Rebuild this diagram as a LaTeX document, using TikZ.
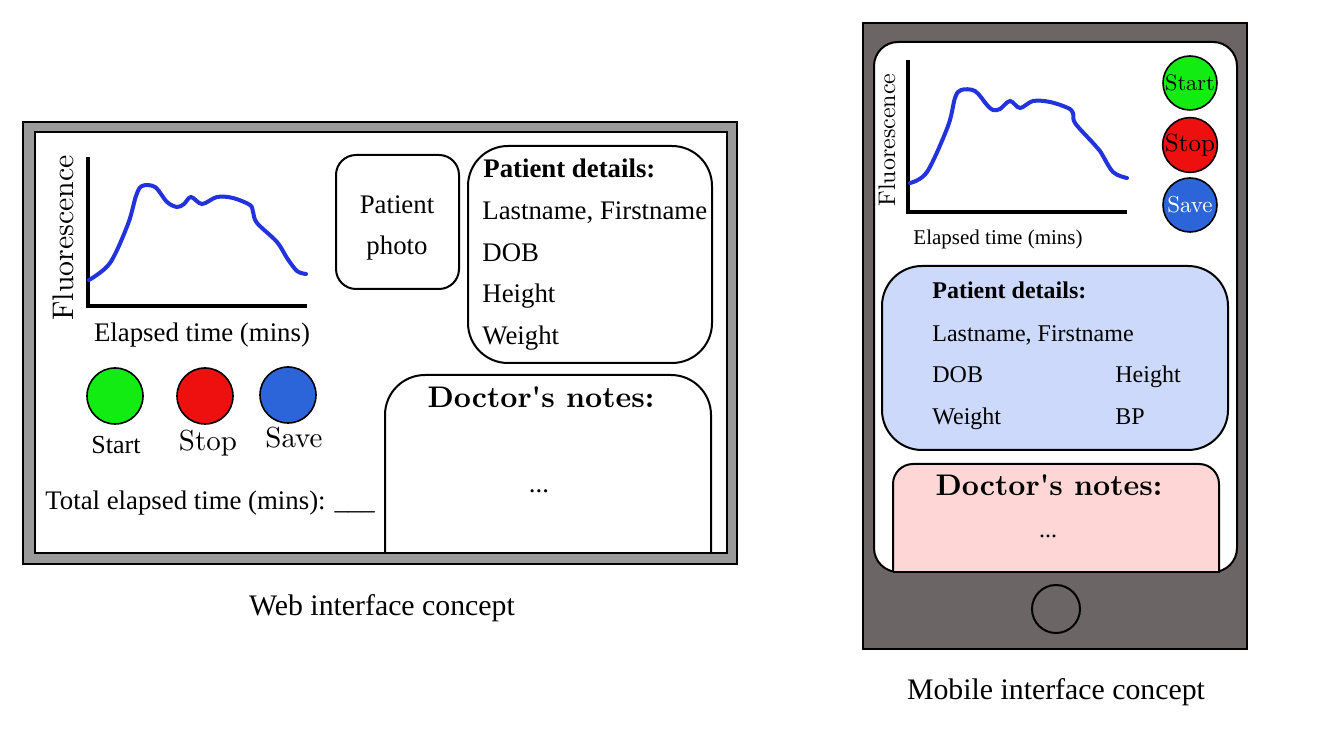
\documentclass[tikz,border=0pt]{standalone}
\usepackage{fontspec}
\setmainfont{Liberation Serif}
\newfontface\lmfont{lmroman10-regular.otf}
\newfontface\lmbxten{lmroman10-bold.otf}
\definecolor{webgray}{HTML}{9A9A9A}
\definecolor{phonegray}{HTML}{6B6665}
\definecolor{curveblue}{HTML}{2233DD}
\definecolor{btngreen}{HTML}{13EC13}
\definecolor{btnred}{HTML}{EE0F0F}
\definecolor{btnblue}{HTML}{2B65D9}
\definecolor{lightblue}{HTML}{CCD9FA}
\definecolor{lightpink}{HTML}{FFD6D6}
\begin{document}
\begin{tikzpicture}[x=0.5pt,y=-0.5pt,
  frame/.style={draw=black, line width=1pt, inner sep=0pt, outer sep=0pt},
  axisline/.style={line width=2.2pt, line join=miter},
  curveline/.style={curveblue, line width=2pt, line cap=round},
  btn/.style={circle, draw=black, line width=0.8pt, inner sep=0pt},
  tms/.style={font=\fontsize{13.4}{16}\selectfont, inner sep=0pt},
  tmsb/.style={font=\fontsize{13.4}{16}\selectfont\bfseries, inner sep=0pt},
  tmsm/.style={font=\fontsize{12}{14}\selectfont, inner sep=0pt},
  tmsmb/.style={font=\fontsize{12}{14}\selectfont\bfseries, inner sep=0pt},
  caption/.style={font=\fontsize{14.9}{18}\selectfont, inner sep=0pt},
  notestitle/.style={font=\lmbxten\fontsize{14.9}{18}\selectfont, inner sep=0pt}
]
\useasboundingbox (0,0) rectangle (1324,732);
\fill[white] (0,0) rectangle (1324,732);

% ---------------- Web interface ----------------
\node[frame, fill=webgray, minimum width=357pt, minimum height=221pt] (webouter) at (380,343) {};
\node[frame, fill=white, minimum width=346pt, minimum height=210.5pt] (webinner) at (381,342.5) {};

% graph
\draw[axisline] (88,157) -- (88,306) -- (307,306);
\draw[curveline] plot[smooth, tension=0.55] coordinates {(89,280) (110,263) (128,224) (136,196) (142,186) (155,187) (167,202) (177,207) (184,204) (191,197) (202,204) (217,197) (233,198) (250,205) (253,212) (257,223) (277,242) (287,258) (297,271) (306,274)};
\node[rotate=90, anchor=base, font=\lmfont\fontsize{14.9}{18}\selectfont, inner sep=0pt] (webfluo) at (73,238) {Fluorescence};
\node[tms, anchor=base] (webelapsed) at (202,342) {Elapsed time (mins)};

% photo
\node[frame, rounded corners=10pt, minimum width=61.5pt, minimum height=67pt] (photo) at (397.5,222) {};
\node[tms, anchor=base] (photo1) at (397,214) {Patient};
\node[tms, anchor=base] (photo2) at (397,255) {photo};

% patient details
\node[frame, rounded corners=20pt, minimum width=122pt, minimum height=108.5pt] (webdetails) at (590,254.5) {};
\node[tmsb, anchor=base west] (wd0) at (483,178) {Patient details:};
\node[tms, anchor=base west] (wd1) at (482,220) {Lastname, Firstname};
\node[tms, anchor=base west] (wd2) at (482,262) {DOB};
\node[tms, anchor=base west] (wd3) at (482,303) {Height};
\node[tms, anchor=base west] (wd4) at (482,345) {Weight};

% buttons
\node[btn, fill=btngreen, minimum size=28pt] (wstart) at (115,396) {};
\node[btn, fill=btnred, minimum size=28pt] (wstop) at (205,396) {};
\node[btn, fill=btnblue, minimum size=28pt] (wsave) at (288,395) {};
\node[font=\fontsize{13}{15}\selectfont, inner sep=0pt, anchor=base] (wstartl) at (116,454) {Start};
\node[font=\lmfont\fontsize{14.5}{17}\selectfont, inner sep=0pt, anchor=base] (wstopl) at (208,451) {Stop};
\node[font=\lmfont\fontsize{14.5}{17}\selectfont, inner sep=0pt, anchor=base] (wsavel) at (294,448) {Save};

\node[tms, anchor=base west] (total) at (45,510) {Total elapsed time (mins): \_\_\_};

% doctor's notes
\fill[white] (385,553) [rounded corners=20pt] -- (385,375) -- (711,375) -- (711,553);
\draw[line width=1pt, rounded corners=20pt] (385,553) -- (385,375) -- (711,375) -- (711,553);
\draw[line width=1.3pt] (384.5,553) -- (711.5,553);
\node[notestitle, anchor=base] (wnt) at (541,408) {Doctor's notes:};
\node[tms, anchor=base] (wndots) at (539,493) {...};

\node[caption, anchor=base] (webcap) at (382,616) {Web interface concept};

% ---------------- Mobile interface ----------------
\node[frame, fill=phonegray, minimum width=192pt, minimum height=313pt] (phone) at (1055,336) {};
\node[frame, fill=white, rounded corners=12pt, minimum width=181.5pt, minimum height=265pt] (screen) at (1055.5,307) {};
\node[btn, line width=1pt, minimum size=24pt] (home) at (1056,609) {};

% graph
\draw[axisline] (908,60) -- (908,212) -- (1127,212);
\draw[curveline] plot[smooth, tension=0.55] coordinates {(910,183) (927,172) (948,126) (955,98) (961,90) (975,91) (987,105) (993,110) (1000,109) (1010,101) (1020,108) (1033,101) (1050,102) (1068,108) (1073,113) (1075,123) (1093,143) (1100,151) (1113,172) (1127,178)};
\node[rotate=90, anchor=base, font=\lmfont\fontsize{12}{14}\selectfont, inner sep=0pt] (mfluo) at (895,140) {Fluorescence};
\node[font=\fontsize{10.5}{12}\selectfont, inner sep=0pt, anchor=base] (melapsed) at (998,245) {Elapsed time (mins)};

% buttons
\node[btn, fill=btngreen, minimum size=27pt, font=\lmfont\fontsize{11.2}{13}\selectfont] (mstart) at (1190,83) {Start};
\node[btn, fill=btnred, minimum size=27pt, font=\lmfont\fontsize{12.5}{14}\selectfont] (mstop) at (1190,145) {Stop};
\node[btn, fill=btnblue, minimum size=27pt, text=white, font=\lmfont\fontsize{11.5}{13}\selectfont] (msave) at (1190,205) {Save};

% patient details
\node[frame, fill=lightblue, rounded corners=20pt, minimum width=173pt, minimum height=92pt] (mdetails) at (1055,358) {};
\node[tmsmb, anchor=base west] (md0) at (932,299) {Patient details:};
\node[tmsm, anchor=base west] (md1) at (932,342) {Lastname, Firstname};
\node[tmsm, anchor=base west] (md2) at (932,383) {DOB};
\node[tmsm, anchor=base west] (md3) at (1115,383) {Height};
\node[tmsm, anchor=base west] (md4) at (932,425) {Weight};
\node[tmsm, anchor=base west] (md5) at (1115,425) {BP};

% doctor's notes
\fill[lightpink] (893,572) [rounded corners=10pt] -- (893,464) -- (1219,464) -- (1219,572);
\draw[line width=1pt, rounded corners=10pt] (893,572) -- (893,464) -- (1219,464) -- (1219,572);
\draw[line width=1.2pt] (892.5,572) -- (1219.5,572);
\node[notestitle, anchor=base] (mnt) at (1049,496) {Doctor's notes:};
\node[tmsm, anchor=base] (mndots) at (1048,538) {...};

\node[caption, anchor=base] (mobcap) at (1056,700) {Mobile interface concept};
\end{tikzpicture}
\end{document}
